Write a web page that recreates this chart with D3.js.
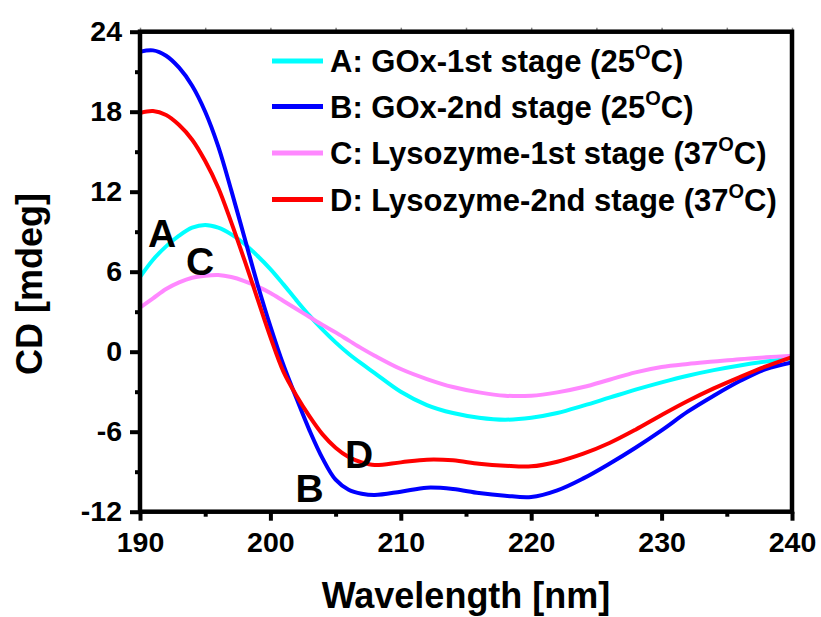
<!DOCTYPE html>
<html>
<head>
<meta charset="utf-8">
<script src="https://cdn.jsdelivr.net/npm/d3@7"></script>
<style>
  body { margin: 0; background: #fff; }
  svg { display: block; font-family: "Liberation Sans", Arial, sans-serif; font-weight: bold; }
</style>
</head>
<body>
<svg width="821" height="617"></svg>
<script>
// wavelength grid (nm)
const wavelength = [190,191,192,193,194,195,196,197,198,199,200,201,202,203,204,205,206,207,208,
  210,212,214,216,218,220,222,224,226,228,230,232,234,236,238,240];

// CD values (mdeg)
const goxStage1 = [5.6,6.9,7.9,8.7,9.3,9.5,9.3,8.8,8.1,7.2,6.2,5.05,3.85,2.7,1.65,0.7,-0.15,-0.9,-1.6,
  -3.0,-4.0,-4.6,-4.95,-5.1,-4.95,-4.6,-4.05,-3.45,-2.85,-2.3,-1.8,-1.38,-1.03,-0.74,-0.5];
const goxStage2 = [22.5,22.6,22.2,21.3,19.95,18.0,15.4,12.1,8.6,5.1,1.9,-1.0,-3.5,-5.9,-8.0,-9.6,-10.35,-10.65,-10.75,
  -10.5,-10.2,-10.3,-10.6,-10.8,-10.9,-10.4,-9.5,-8.4,-7.2,-5.9,-4.5,-3.3,-2.2,-1.3,-0.8];
const lysoStage1 = [3.3,4.0,4.7,5.2,5.55,5.7,5.75,5.6,5.3,4.9,4.4,3.8,3.2,2.6,2.0,1.45,0.85,0.25,-0.3,
  -1.3,-2.05,-2.65,-3.05,-3.3,-3.3,-3.05,-2.65,-2.1,-1.55,-1.15,-0.92,-0.74,-0.56,-0.42,-0.3];
const lysoStage2 = [17.9,18.05,17.75,17.0,15.9,14.3,12.3,9.7,6.9,4.0,1.1,-1.5,-3.3,-4.85,-6.2,-7.2,-7.9,-8.3,-8.5,
  -8.3,-8.1,-8.15,-8.4,-8.55,-8.6,-8.25,-7.65,-6.85,-5.85,-4.75,-3.7,-2.75,-1.9,-1.1,-0.4];

const xTicks = [190,200,210,220,230,240];
const xMinor = [195,205,215,225,235];
const yTicks = [-12,-6,0,6,12,18,24];
const yMinor = [-9,-3,3,9,15,21];

const seriesNames = ['A: GOx-1st stage (25', 'B: GOx-2nd stage (25', 'C: Lysozyme-1st stage (37', 'D: Lysozyme-2nd stage (37'];
const seriesColors = ['#00ffff', '#0000ff', '#ff88ff', '#ff0000'];
const seriesValues = [goxStage1, goxStage2, lysoStage1, lysoStage2];
const curveLetters = ['A', 'B', 'C', 'D'];
// letter label positions in data units
const letterX = [191.7, 203.0, 194.6, 206.8];
const letterY = [8.9, -10.2, 6.8, -7.7];

const svg = d3.select('svg');
const margin = {top: 31.7, right: 29, bottom: 105.3, left: 140};
const W = 821, H = 617;

const x = d3.scaleLinear().domain([190, 240]).range([margin.left, W - margin.right]);
const y = d3.scaleLinear().domain([-12, 24]).range([H - margin.bottom, margin.top]);

svg.append('clipPath').attr('id', 'plot')
  .append('rect')
  .attr('x', x(190)).attr('y', y(24))
  .attr('width', x(240) - x(190)).attr('height', y(-12) - y(24));

// curves: A, C, B, D drawn in that order
const line = d3.line().x((d, i) => x(wavelength[i])).y(d => y(d)).curve(d3.curveCatmullRom.alpha(0.5));
[0, 2, 1, 3].forEach(k => {
  svg.append('path')
    .datum(seriesValues[k])
    .attr('clip-path', 'url(#plot)')
    .attr('fill', 'none')
    .attr('stroke', seriesColors[k])
    .attr('stroke-width', 4)
    .attr('stroke-linejoin', 'round')
    .attr('d', line);
});

// bottom axis
svg.append('g')
  .attr('transform', `translate(0, ${y(-12)})`)
  .call(d3.axisBottom(x).tickValues(xTicks).tickSize(9).tickPadding(11).tickFormat(d => String(d)));
svg.append('g')
  .attr('transform', `translate(0, ${y(-12)})`)
  .call(d3.axisBottom(x).tickValues(xMinor).tickSize(5).tickFormat(''));

// left axis
svg.append('g')
  .attr('transform', `translate(${x(190)}, 0)`)
  .call(d3.axisLeft(y).tickValues(yTicks).tickSize(10).tickPadding(8).tickFormat(d => String(d)));
svg.append('g')
  .attr('transform', `translate(${x(190)}, 0)`)
  .call(d3.axisLeft(y).tickValues(yMinor).tickSize(5).tickFormat(''));

svg.selectAll('.domain').remove();
svg.selectAll('.tick line').attr('stroke', '#000').attr('stroke-width', 4);

// top axis small ticks (faint)
svg.append('g')
  .attr('transform', `translate(0, ${y(24)})`)
  .call(d3.axisTop(x).tickValues(xTicks.concat(xMinor)).tickSize(4).tickFormat(''))
  .call(g => g.select('.domain').remove())
  .call(g => g.selectAll('.tick line').attr('stroke', '#888').attr('stroke-width', 1.5));

svg.selectAll('.tick text')
  .attr('fill', '#000')
  .style('font-size', '28.5px')
  .style('font-weight', 'bold')
  .style('font-family', '"Liberation Sans", Arial, sans-serif');

// frame
svg.append('rect')
  .attr('x', x(190)).attr('y', y(24))
  .attr('width', x(240) - x(190)).attr('height', y(-12) - y(24))
  .attr('fill', 'none').attr('stroke', '#000').attr('stroke-width', 4.5);

// axis titles
svg.append('text')
  .attr('x', (x(190) + x(240)) / 2)
  .attr('y', 608)
  .attr('text-anchor', 'middle')
  .style('font-size', '36px')
  .text('Wavelength [nm]');

svg.append('text')
  .attr('transform', 'translate(42, 284) rotate(-90)')
  .attr('text-anchor', 'middle')
  .style('font-size', '36px')
  .text('CD [mdeg]');

// legend
const legY = [61, 106.5, 153, 199.5];
seriesNames.forEach((name, i) => {
  svg.append('line')
    .attr('x1', 272).attr('x2', 323)
    .attr('y1', legY[i]).attr('y2', legY[i])
    .attr('stroke', seriesColors[i]).attr('stroke-width', 5);
  const t = svg.append('text')
    .attr('x', 330).attr('y', legY[i] + 11)
    .style('font-size', '31px');
  t.append('tspan').text(name);
  t.append('tspan').attr('dy', -13).style('font-size', '20px').text('O');
  t.append('tspan').attr('dy', 13).text('C)');
});

// curve letters
curveLetters.forEach((c, i) => {
  svg.append('text')
    .attr('x', x(letterX[i])).attr('y', y(letterY[i]))
    .attr('text-anchor', 'middle')
    .attr('dy', '0.36em')
    .style('font-size', '39px')
    .text(c);
});
</script>
</body>
</html>
